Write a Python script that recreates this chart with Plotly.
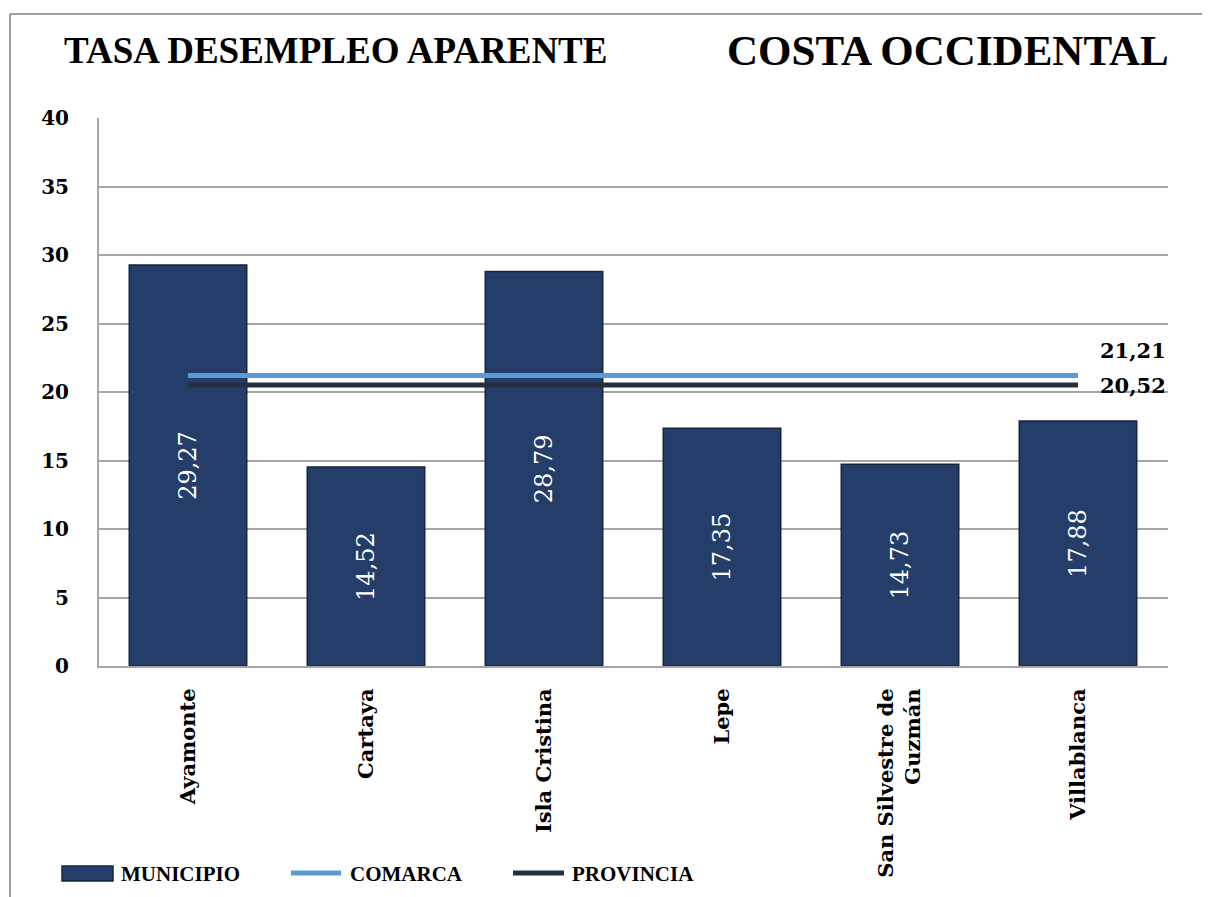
import plotly.graph_objects as go

categories = ["Ayamonte", "Cartaya", "Isla Cristina", "Lepe", "San Silvestre de<br>Guzmán", "Villablanca"]
municipio = [29.27, 14.52, 28.79, 17.35, 14.73, 17.88]
comarca_value = 21.21
provincia_value = 20.52
y_ticks = [0, 5, 10, 15, 20, 25, 30, 35, 40]

BAR_COLOR = "#253d69"
BAR_EDGE = "#17253f"
COMARCA_COLOR = "#5b9bd5"
PROVINCIA_COLOR = "#262f3c"

def fmt(v):
    return f"{v:.2f}".replace(".", ",")

SERIF = "Liberation Serif"
SERIF2 = "DejaVu Serif"

# screen pixel -> paper coords (plot area: x 99..1168, y 118..666 on screen)
def px(X):
    return (X - 99) / 1069

def py(Y):
    return (666 - Y) / 548

fig = go.Figure()
fig.add_trace(go.Bar(
    x=categories, y=municipio, name="MUNICIPIO",
    width=0.66,
    marker=dict(color=BAR_COLOR, line=dict(color=BAR_EDGE, width=1.5)),
    text=[fmt(v) for v in municipio],
    textposition="inside", insidetextanchor="middle", textangle=-90,
    textfont=dict(family=SERIF2, size=24, color="white"),
    showlegend=False,
))
fig.add_trace(go.Scatter(
    x=categories, y=[comarca_value] * len(categories), name="COMARCA",
    mode="lines", line=dict(color=COMARCA_COLOR, width=5), showlegend=False,
))
fig.add_trace(go.Scatter(
    x=categories, y=[provincia_value] * len(categories), name="PROVINCIA",
    mode="lines", line=dict(color=PROVINCIA_COLOR, width=5), showlegend=False,
))

fig.add_annotation(x=categories[-1], y=comarca_value, text=fmt(comarca_value),
                   showarrow=False, xanchor="left", yanchor="middle", xshift=20, yshift=25,
                   font=dict(family=SERIF2, size=21, color="black", weight="bold"))
fig.add_annotation(x=categories[-1], y=provincia_value, text=fmt(provincia_value),
                   showarrow=False, xanchor="left", yanchor="middle", xshift=20, yshift=-1,
                   font=dict(family=SERIF2, size=21, color="black", weight="bold"))

# titles
fig.add_annotation(xref="paper", yref="paper", x=px(335), y=py(50),
                   text="TASA DESEMPLEO APARENTE", showarrow=False, xanchor="center", yanchor="middle",
                   font=dict(family=SERIF, size=37, color="black", weight="bold"))
fig.add_annotation(xref="paper", yref="paper", x=px(948), y=py(50),
                   text="COSTA OCCIDENTAL", showarrow=False, xanchor="center", yanchor="middle",
                   font=dict(family=SERIF, size=43, color="black", weight="bold"))

# outer frame (left and top edges only are visible in the reference)
fig.add_shape(type="line", xref="paper", yref="paper",
              x0=px(10), x1=px(10), y0=py(900), y1=py(14),
              line=dict(color="#a0a0a0", width=2), layer="below")
fig.add_shape(type="line", xref="paper", yref="paper",
              x0=px(10), x1=px(1215), y0=py(14), y1=py(14),
              line=dict(color="#a0a0a0", width=2), layer="below")

# legend (drawn manually to get wide swatches)
legend_font = dict(family=SERIF, size=21, color="black", weight="bold")
fig.add_shape(type="rect", xref="paper", yref="paper",
              x0=px(62), x1=px(113), y0=py(881), y1=py(866),
              fillcolor=BAR_COLOR, line=dict(color=BAR_EDGE, width=1.5))
fig.add_annotation(xref="paper", yref="paper", x=px(119), y=py(874), text="MUNICIPIO",
                   showarrow=False, xanchor="left", yanchor="middle", font=legend_font)
fig.add_shape(type="line", xref="paper", yref="paper",
              x0=px(291), x1=px(341), y0=py(873), y1=py(873),
              line=dict(color=COMARCA_COLOR, width=5))
fig.add_annotation(xref="paper", yref="paper", x=px(348), y=py(874), text="COMARCA",
                   showarrow=False, xanchor="left", yanchor="middle", font=legend_font)
fig.add_shape(type="line", xref="paper", yref="paper",
              x0=px(513), x1=px(564), y0=py(873), y1=py(873),
              line=dict(color=PROVINCIA_COLOR, width=5))
fig.add_annotation(xref="paper", yref="paper", x=px(570), y=py(874), text="PROVINCIA",
                   showarrow=False, xanchor="left", yanchor="middle", font=legend_font)

fig.update_layout(
    width=1202, height=889,
    margin=dict(l=91, r=42, t=110, b=231),
    plot_bgcolor="white", paper_bgcolor="white",
    showlegend=False,
    bargap=0.34,
)
fig.update_yaxes(range=[0, 40], tickvals=y_ticks, ticktext=[str(t) for t in y_ticks],
                 showgrid=True, gridcolor="#a6a6a6", gridwidth=2,
                 showline=True, linecolor="#a6a6a6", linewidth=2,
                 zeroline=False, ticks="", ticklabelstandoff=24,
                 tickfont=dict(family=SERIF2, size=20, color="black", weight="bold"))
fig.update_xaxes(showline=True, linecolor="#a6a6a6", linewidth=2, showgrid=False,
                 ticks="", tickangle=-90, ticklabelstandoff=12,
                 tickfont=dict(family=SERIF2, size=21, color="black", weight="bold"))

fig.write_html("out.html")
